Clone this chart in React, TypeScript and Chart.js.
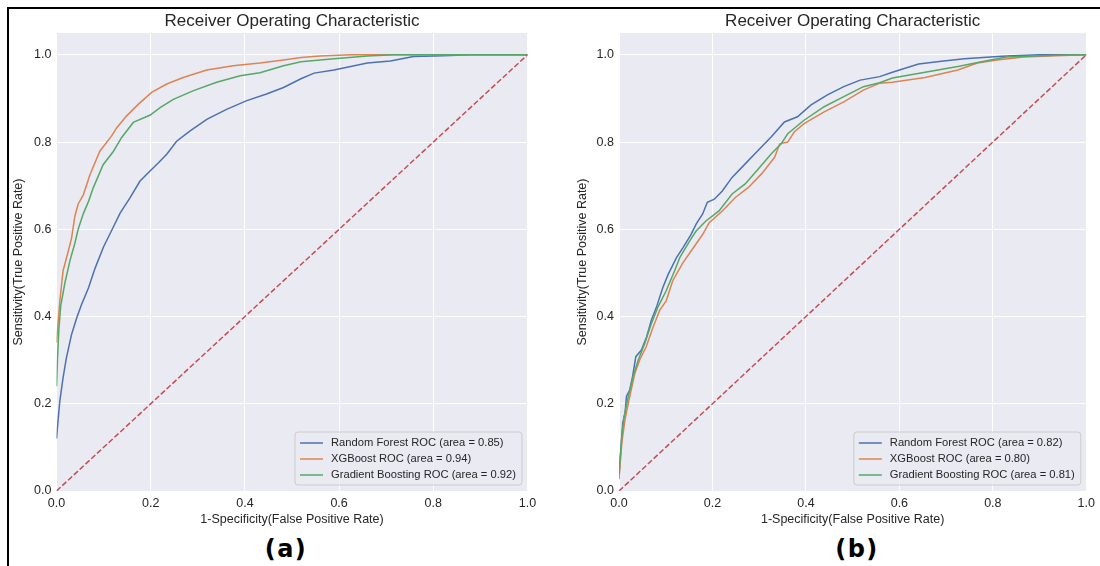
import React, { useEffect, useRef } from "react";
import { Chart, registerables } from "chart.js";

Chart.register(...registerables);

const FONT = "'Liberation Sans', Arial, Helvetica, sans-serif";
const TEXT = "#262626";
const PLOT_BG = "#EAEAF2";

const TITLE = "Receiver Operating Characteristic";
const X_LABEL = "1-Specificity(False Positive Rate)";
const Y_LABEL = "Sensitivity(True Positive Rate)";
const PANEL_LABELS = ["(a)", "(b)"];

const MODEL_NAMES = ["Random Forest", "XGBoost", "Gradient Boosting"];
const COLORS = ["#4C72B0", "#DD8452", "#55A868"];
const DIAG_COLOR = "#C44E52";
const DIAG_X = [0, 1];
const DIAG_Y = [0, 1];

const AUC_A = [0.85, 0.94, 0.92];
const AUC_B = [0.82, 0.8, 0.81];

// ---- Panel (a) ----
const A_RF_FPR = [0, 0.002, 0.007, 0.014, 0.021, 0.032, 0.043, 0.053, 0.068, 0.082, 0.1, 0.116, 0.135, 0.156, 0.177, 0.198, 0.216, 0.234, 0.255, 0.283, 0.319, 0.361, 0.404, 0.446, 0.482, 0.519, 0.547, 0.589, 0.66, 0.709, 0.758, 0.821, 0.88, 1.0];
const A_RF_TPR = [0.12, 0.145, 0.206, 0.26, 0.305, 0.359, 0.397, 0.427, 0.466, 0.511, 0.56, 0.595, 0.637, 0.672, 0.71, 0.733, 0.752, 0.772, 0.802, 0.825, 0.852, 0.875, 0.895, 0.91, 0.925, 0.945, 0.958, 0.965, 0.981, 0.986, 0.996, 0.998, 1.0, 1.0];

const A_XGB_FPR = [0, 0.003, 0.007, 0.014, 0.025, 0.032, 0.039, 0.046, 0.057, 0.071, 0.092, 0.117, 0.128, 0.149, 0.174, 0.202, 0.234, 0.269, 0.319, 0.375, 0.432, 0.482, 0.519, 0.56, 0.625, 1.0];
const A_XGB_TPR = [0.34, 0.38, 0.435, 0.505, 0.55, 0.58, 0.63, 0.658, 0.679, 0.725, 0.779, 0.814, 0.833, 0.86, 0.887, 0.914, 0.933, 0.948, 0.965, 0.975, 0.981, 0.988, 0.994, 0.997, 1.0, 1.0];

const A_GB_FPR = [0, 0.002, 0.005, 0.009, 0.018, 0.029, 0.039, 0.046, 0.057, 0.068, 0.078, 0.099, 0.121, 0.138, 0.163, 0.199, 0.22, 0.248, 0.291, 0.34, 0.39, 0.432, 0.482, 0.519, 0.589, 0.66, 0.716, 1.0];
const A_GB_TPR = [0.24, 0.3, 0.37, 0.425, 0.478, 0.53, 0.568, 0.6, 0.636, 0.664, 0.695, 0.748, 0.779, 0.81, 0.845, 0.862, 0.879, 0.898, 0.918, 0.937, 0.952, 0.959, 0.975, 0.984, 0.991, 0.997, 1.0, 1.0];

// ---- Panel (b) ----
const B_RF_FPR = [0, 0.004, 0.008, 0.013, 0.016, 0.023, 0.029, 0.036, 0.048, 0.059, 0.069, 0.08, 0.094, 0.105, 0.123, 0.137, 0.154, 0.165, 0.179, 0.189, 0.204, 0.221, 0.242, 0.27, 0.298, 0.326, 0.354, 0.382, 0.411, 0.446, 0.481, 0.516, 0.558, 0.585, 0.641, 0.69, 0.739, 0.795, 0.83, 0.9, 1.0];
const B_RF_TPR = [0.035, 0.095, 0.156, 0.179, 0.217, 0.232, 0.262, 0.308, 0.323, 0.353, 0.391, 0.421, 0.467, 0.496, 0.535, 0.558, 0.588, 0.612, 0.635, 0.662, 0.669, 0.688, 0.719, 0.75, 0.781, 0.812, 0.846, 0.858, 0.885, 0.908, 0.927, 0.942, 0.95, 0.96, 0.979, 0.985, 0.991, 0.995, 0.997, 1.0, 1.0];

const B_XGB_FPR = [0, 0.006, 0.013, 0.023, 0.034, 0.044, 0.058, 0.073, 0.087, 0.101, 0.115, 0.136, 0.158, 0.179, 0.193, 0.221, 0.249, 0.277, 0.305, 0.333, 0.344, 0.361, 0.375, 0.396, 0.439, 0.481, 0.523, 0.558, 0.585, 0.655, 0.725, 0.767, 0.809, 0.865, 0.935, 1.0];
const B_XGB_TPR = [0.027, 0.11, 0.164, 0.217, 0.27, 0.3, 0.33, 0.376, 0.414, 0.436, 0.482, 0.522, 0.556, 0.588, 0.615, 0.642, 0.673, 0.696, 0.727, 0.765, 0.796, 0.8, 0.823, 0.842, 0.869, 0.892, 0.919, 0.935, 0.937, 0.948, 0.965, 0.981, 0.988, 0.995, 0.998, 1.0];

const B_GB_FPR = [0, 0.006, 0.011, 0.02, 0.03, 0.041, 0.055, 0.069, 0.083, 0.101, 0.119, 0.13, 0.151, 0.165, 0.186, 0.214, 0.242, 0.27, 0.298, 0.326, 0.347, 0.361, 0.396, 0.439, 0.481, 0.523, 0.558, 0.585, 0.655, 0.725, 0.795, 0.83, 0.935, 1.0];
const B_GB_TPR = [0.04, 0.126, 0.171, 0.217, 0.262, 0.3, 0.338, 0.383, 0.421, 0.459, 0.505, 0.535, 0.573, 0.596, 0.619, 0.642, 0.681, 0.704, 0.738, 0.773, 0.796, 0.819, 0.85, 0.881, 0.904, 0.927, 0.936, 0.947, 0.96, 0.973, 0.988, 0.995, 0.999, 1.0];

const bgPlugin = {
  id: "plotBg",
  beforeDraw(chart: any) {
    const { ctx, chartArea } = chart;
    ctx.save();
    ctx.fillStyle = PLOT_BG;
    ctx.fillRect(chartArea.left, chartArea.top, chartArea.right - chartArea.left, chartArea.bottom - chartArea.top);
    ctx.restore();
  },
};

const legendPlugin = {
  id: "mplLegend",
  afterDatasetsDraw(chart: any) {
    const { ctx, chartArea } = chart;
    const items = chart.data.datasets.filter((d: any) => d.label);
    const fs = 11.2;
    ctx.save();
    ctx.font = `${fs}px ${FONT}`;
    const maxW = Math.max(...items.map((d: any) => ctx.measureText(d.label).width));
    const padL = 5, handle = 23, gap = 8, padR = 6;
    const rowH = 16, padT = 11, padB = 10;
    const w = padL + handle + gap + maxW + padR;
    const h = padT + rowH * (items.length - 1) + padB;
    const right = chartArea.right - 5.5;
    const bottom = chartArea.bottom - 6;
    const left = right - w;
    const top = bottom - h;
    ctx.beginPath();
    if ((ctx as any).roundRect) (ctx as any).roundRect(left, top, w, h, 3);
    else ctx.rect(left, top, w, h);
    ctx.fillStyle = "rgba(234,234,242,0.8)";
    ctx.fill();
    ctx.strokeStyle = "#cccccc";
    ctx.lineWidth = 1;
    ctx.stroke();
    items.forEach((d: any, i: number) => {
      const y = top + padT + i * rowH;
      ctx.strokeStyle = d.borderColor;
      ctx.lineWidth = 1.5;
      ctx.beginPath();
      ctx.moveTo(left + padL, y);
      ctx.lineTo(left + padL + handle, y);
      ctx.stroke();
      ctx.fillStyle = TEXT;
      ctx.textBaseline = "middle";
      ctx.textAlign = "left";
      ctx.fillText(d.label, left + padL + handle + gap, y);
    });
    ctx.restore();
  },
};

type PanelProps = {
  fprs: number[][];
  tprs: number[][];
  aucs: number[];
  left: number;
  width: number;
  padLeft: number;
  yWidth: number;
  padRight: number;
};

function RocPanel(p: PanelProps) {
  const ref = useRef<HTMLCanvasElement>(null);
  useEffect(() => {
    if (!ref.current) return;
    const datasets: any[] = MODEL_NAMES.map((name, i) => ({
      label: `${name} ROC (area = ${p.aucs[i].toFixed(2)})`,
      data: p.fprs[i].map((x, j) => ({ x, y: p.tprs[i][j] })),
      borderColor: COLORS[i],
      backgroundColor: COLORS[i],
      borderWidth: 1.5,
      pointRadius: 0,
      tension: 0,
      fill: false,
      order: 3 - i,
    }));
    datasets.push({
      label: "",
      data: DIAG_X.map((x, j) => ({ x, y: DIAG_Y[j] })),
      borderColor: DIAG_COLOR,
      borderWidth: 1.5,
      borderDash: [5.5, 2.4],
      pointRadius: 0,
      fill: false,
      order: 0,
    });
    const tickFont = { family: FONT, size: 12.5 };
    const chart = new Chart(ref.current, {
      type: "line",
      data: { datasets },
      plugins: [bgPlugin, legendPlugin],
      options: {
        animation: false,
        responsive: false,
        maintainAspectRatio: false,
        layout: { padding: { left: p.padLeft, right: p.padRight, top: 0, bottom: 0 } },
        plugins: {
          legend: { display: false },
          tooltip: { enabled: false },
          title: {
            display: true,
            text: TITLE,
            color: TEXT,
            fullSize: false,
            font: { family: FONT, size: 17, weight: "normal" },
            padding: { top: 1.5, bottom: 1.1 },
          },
        },
        scales: {
          x: {
            type: "linear",
            min: 0,
            max: 1,
            ticks: {
              stepSize: 0.2,
              includeBounds: false,
              padding: 5,
              color: TEXT,
              font: tickFont,
              maxRotation: 0,
              callback: (v: any) => Number(v).toFixed(1),
            },
            grid: { color: "#ffffff", lineWidth: 1, drawTicks: false },
            border: { display: false },
            title: {
              display: true,
              text: X_LABEL,
              color: TEXT,
              font: tickFont,
              padding: { top: 0, bottom: 3 },
            },
            afterFit: (s: any) => {
              s.height = 39;
            },
          },
          y: {
            type: "linear",
            min: 0,
            max: 1.05,
            ticks: {
              stepSize: 0.2,
              includeBounds: false,
              padding: 5,
              color: TEXT,
              font: tickFont,
              callback: (v: any) => Number(v).toFixed(1),
            },
            grid: { color: "#ffffff", lineWidth: 1, drawTicks: false },
            border: { display: false },
            title: {
              display: true,
              text: Y_LABEL,
              color: TEXT,
              font: tickFont,
              padding: { top: 1.5, bottom: 0 },
            },
            afterFit: (s: any) => {
              s.width = p.yWidth;
            },
          },
        },
      } as any,
    });
    return () => chart.destroy();
  }, []);
  return (
    <canvas
      ref={ref}
      width={p.width}
      height={520}
      style={{ position: "absolute", left: p.left, top: 10, width: p.width, height: 520 }}
    />
  );
}

export default function App() {
  return (
    <div style={{ position: "fixed", left: 0, top: 0, width: 1100, height: 566, background: "#fff", overflow: "hidden" }}>
      <div
        style={{
          position: "absolute",
          left: 7,
          top: 7,
          width: 1200,
          height: 700,
          borderLeft: "2px solid #000",
          borderTop: "2px solid #000",
        }}
      />
      <RocPanel
        fprs={[A_RF_FPR, A_XGB_FPR, A_GB_FPR]}
        tprs={[A_RF_TPR, A_XGB_TPR, A_GB_TPR]}
        aucs={AUC_A}
        left={10}
        width={540}
        padLeft={0}
        yWidth={46.5}
        padRight={22.5}
      />
      <RocPanel
        fprs={[B_RF_FPR, B_XGB_FPR, B_GB_FPR]}
        tprs={[B_RF_TPR, B_XGB_TPR, B_GB_TPR]}
        aucs={AUC_B}
        left={550}
        width={550}
        padLeft={24}
        yWidth={45}
        padRight={11}
      />
      {PANEL_LABELS.map((t, i) => (
        <div
          key={t}
          style={{
            position: "absolute",
            left: i === 0 ? 226 : 797,
            width: 120,
            top: 537,
            textAlign: "center",
            fontFamily: "'DejaVu Sans', Verdana, sans-serif",
            fontWeight: "bold",
            fontSize: 24,
            lineHeight: "24px",
            letterSpacing: 1.5,
            color: "#000",
          }}
        >
          {t}
        </div>
      ))}
    </div>
  );
}
